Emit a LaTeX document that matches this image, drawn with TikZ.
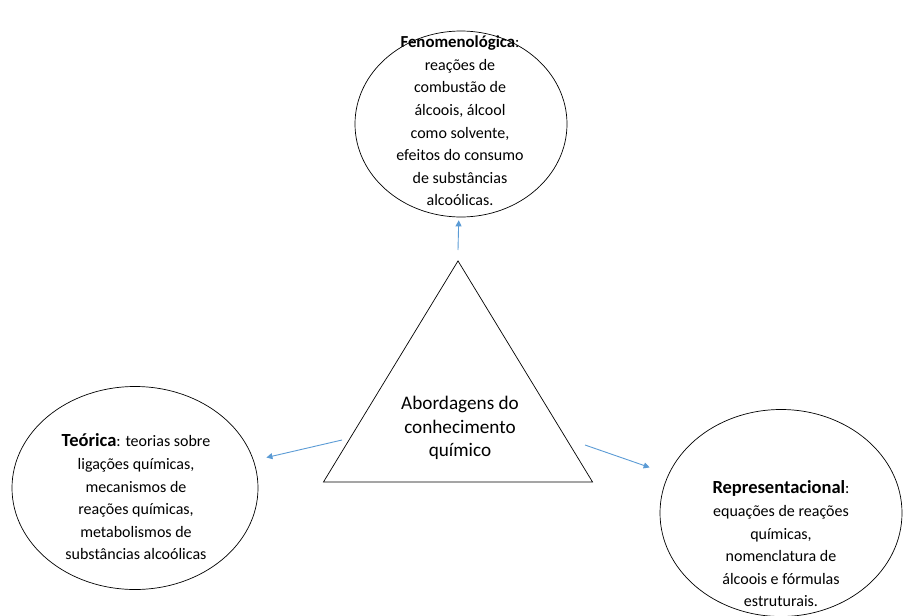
\documentclass[tikz,border=0pt]{standalone}
\usepackage{fontspec}
\setmainfont{Carlito}
\usetikzlibrary{shapes.geometric,arrows.meta}
\definecolor{azul}{HTML}{5B9BD5}
\newcommand{\titulo}[2][18.5]{{\fontsize{#1}{22.6}\selectfont\textbf{#2}}}
\begin{document}
\begin{tikzpicture}[x=1pt,y=-1pt,
    txt/.style={font=\fontsize{16}{22.6}\selectfont,align=center,inner sep=0pt},
    bola/.style={draw,ellipse,line width=0.7pt,inner sep=0pt},
    seta/.style={draw=azul,line width=0.9pt,-{Triangle[length=6pt,width=6pt]}}]
    \useasboundingbox (0,0) rectangle (903,616);
    \node[bola,minimum width=212pt,minimum height=186pt] (fen) at (461,124) {};
    \node[bola,minimum width=246pt,minimum height=203pt] (teo) at (135,488) {};
    \node[bola,minimum width=242pt,minimum height=207pt] (rep) at (781,513) {};
    \node[draw,isosceles triangle,isosceles triangle stretches,shape border rotate=90,
      line width=0.7pt,inner sep=0pt,minimum width=269pt,minimum height=221pt,anchor=apex] (tri) at (458,260) {};
    \node[txt,font=\fontsize{19.2}{23.5}\selectfont] (abord) at (460,428) {Abordagens do\\conhecimento\\químico};
    \node[txt] (fentxt) at (460,121) {\titulo[16.8]{Fenomenológica}:\\reações de\\combustão de\\álcoois, álcool\\como solvente,\\efeitos do consumo\\de substâncias\\alcoólicas.};
    \node[txt] (teotxt) at (136,497) {\titulo{Teórica}: teorias sobre\\ligações químicas,\\mecanismos de\\reações químicas,\\metabolismos de\\substâncias alcoólicas};
    \node[txt] (reptxt) at (781,544) {\titulo{Representacional}:\\equações de reações\\químicas,\\nomenclatura de\\álcoois e fórmulas\\estruturais.};
    \coordinate (c1) at (458,250);
    \coordinate (c2) at (342,440);
    \coordinate (c3) at (585,445);
    \path (c1) edge[seta,shorten >=3pt] (fen)
    (c2) edge[seta,shorten >=13pt] (teo)
    (c3) edge[seta,shorten >=20pt] (rep);
  \end{tikzpicture}
\end{document}
